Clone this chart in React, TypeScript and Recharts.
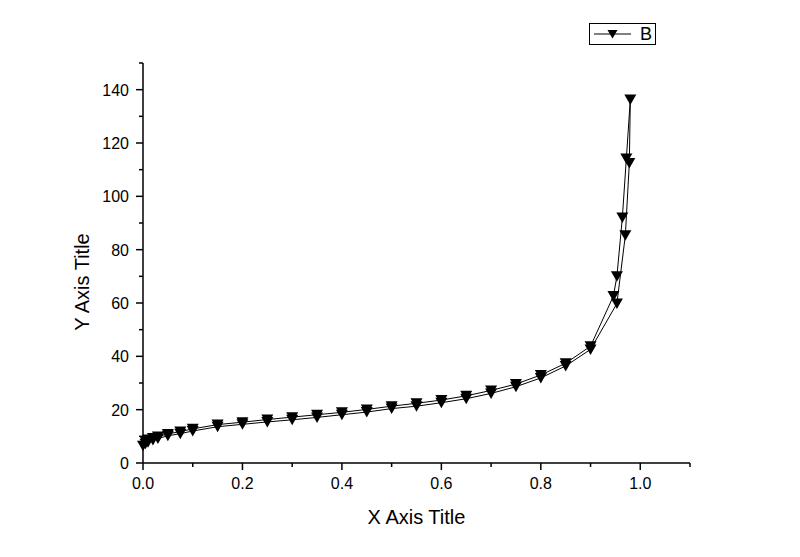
import { LineChart, Line, XAxis, YAxis, Legend } from 'recharts';

// outgoing branch (lower curve)
const X_OUT = [0, 0.005, 0.01, 0.02, 0.03, 0.05, 0.075, 0.1, 0.15, 0.2, 0.25, 0.3, 0.35, 0.4, 0.45, 0.5, 0.55, 0.6, 0.65, 0.7, 0.75, 0.8, 0.85, 0.9, 0.953, 0.97, 0.978, 0.98];
const Y_OUT = [6.5, 7.2, 7.8, 8.6, 9.2, 10.2, 11.0, 12.0, 13.6, 14.5, 15.4, 16.2, 17.1, 18.1, 19.1, 20.4, 21.3, 22.6, 24.1, 26.1, 28.6, 31.9, 36.4, 42.6, 59.8, 85.4, 112.5, 136.3];

// return branch (upper curve)
const X_BACK = [0.972, 0.964, 0.953, 0.946, 0.9, 0.85, 0.8, 0.75, 0.7, 0.65, 0.6, 0.55, 0.5, 0.45, 0.4, 0.35, 0.3, 0.25, 0.2, 0.15, 0.1, 0.075, 0.05, 0.03, 0.02, 0.01, 0.005];
const Y_BACK = [114.2, 92.1, 70.0, 62.6, 43.8, 37.4, 33.0, 29.6, 27.2, 25.2, 23.6, 22.4, 21.3, 20.1, 19.0, 18.1, 17.2, 16.3, 15.3, 14.4, 12.8, 11.8, 10.9, 9.9, 9.4, 8.8, 8.2];

const X_TICKS = [0, 0.1, 0.2, 0.3, 0.4, 0.5, 0.6, 0.7, 0.8, 0.9, 1.0, 1.1];
const Y_TICKS = [0, 10, 20, 30, 40, 50, 60, 70, 80, 90, 100, 110, 120, 130, 140, 150];

const data = [
    ...X_OUT.map((x, i) => ({ x, y: Y_OUT[i] })),
    ...X_BACK.map((x, i) => ({ x, y: Y_BACK[i] })),
];

const FONT = '"Liberation Sans", Arial, sans-serif';

const TriangleDown = (props: any) => {
    const { cx, cy } = props;
    if (cx == null || cy == null) return null;
    return (
        <path
            d={`M${cx - 6},${cy - 5} L${cx + 6},${cy - 5} L${cx},${cy + 5.5} Z`}
            fill="#000"
        />
    );
};

const XTick = (props: any) => {
    const { x, y, payload } = props;
    const major = Math.round(payload.value * 10) % 2 === 0;
    return (
        <g>
            <line x1={x} x2={x} y1={y} y2={y + (major ? 7 : 4)} stroke="#000" strokeWidth={1.5} />
            {major && (
                <text x={x} y={y + 26} textAnchor="middle" fontSize={16} fontFamily={FONT} fill="#000">
                    {payload.value.toFixed(1)}
                </text>
            )}
        </g>
    );
};

const YTick = (props: any) => {
    const { x, y, payload } = props;
    const major = payload.value % 20 === 0;
    return (
        <g>
            <line x1={x} x2={x - (major ? 7 : 4)} y1={y} y2={y} stroke="#000" strokeWidth={1.5} />
            {major && (
                <text x={x - 14} y={y + 6} textAnchor="end" fontSize={16} fontFamily={FONT} fill="#000">
                    {payload.value}
                </text>
            )}
        </g>
    );
};

const LegendBox = () => (
    <div
        style={{
            border: '1px solid #000',
            width: 67,
            height: 22,
            display: 'flex',
            alignItems: 'center',
            boxSizing: 'border-box',
            background: '#fff',
        }}
    >
        <svg width={50} height={20}>
            <line x1={4} x2={41} y1={10} y2={10} stroke="#000" strokeWidth={1} />
            <path d="M17.5,6 L27.5,6 L22.5,14.5 Z" fill="#000" />
        </svg>
        <span style={{ fontFamily: FONT, fontSize: 18, lineHeight: '20px', color: '#000' }}>B</span>
    </div>
);

export default function App() {
    return (
        <div style={{ position: 'absolute', left: 0, top: 0, width: 800, height: 557, background: '#fff' }}>
            <LineChart width={800} height={557} data={data} margin={{ top: 63, right: 110, left: 0, bottom: 0 }}>
                <XAxis
                    dataKey="x"
                    type="number"
                    domain={[0, 1.1]}
                    ticks={X_TICKS}
                    interval={0}
                    height={94}
                    axisLine={{ stroke: '#000', strokeWidth: 1.5 }}
                    tickLine={false}
                    tickSize={0}
                    tickMargin={0}
                    tick={<XTick />}
                    label={{
                        content: ({ viewBox }: any) => (
                            <text
                                x={viewBox.x + viewBox.width / 2}
                                y={viewBox.y + 61}
                                textAnchor="middle"
                                fontSize={20}
                                fontFamily={FONT}
                                fill="#000"
                            >
                                X Axis Title
                            </text>
                        ),
                    }}
                />
                <YAxis
                    dataKey="y"
                    type="number"
                    domain={[0, 150]}
                    ticks={Y_TICKS}
                    interval={0}
                    width={143}
                    axisLine={{ stroke: '#000', strokeWidth: 1.5 }}
                    tickLine={false}
                    tickSize={0}
                    tickMargin={0}
                    tick={<YTick />}
                    label={{
                        content: ({ viewBox }: any) => (
                            <text
                                x={89}
                                y={viewBox.y + 219}
                                transform={`rotate(-90, 89, ${viewBox.y + 219})`}
                                textAnchor="middle"
                                fontSize={20}
                                fontFamily={FONT}
                                fill="#000"
                            >
                                Y Axis Title
                            </text>
                        ),
                    }}
                />
                <Legend
                    layout="vertical"
                    align="center"
                    verticalAlign="middle"
                    wrapperStyle={{ left: 589, top: 23, width: 'auto' }}
                    content={<LegendBox />}
                />
                <Line
                    type="linear"
                    dataKey="y"
                    stroke="#000"
                    strokeWidth={1}
                    dot={(p: any) => <TriangleDown {...p} key={`d-${p.index}`} />}
                    activeDot={false}
                    isAnimationActive={false}
                />
            </LineChart>
        </div>
    );
}
